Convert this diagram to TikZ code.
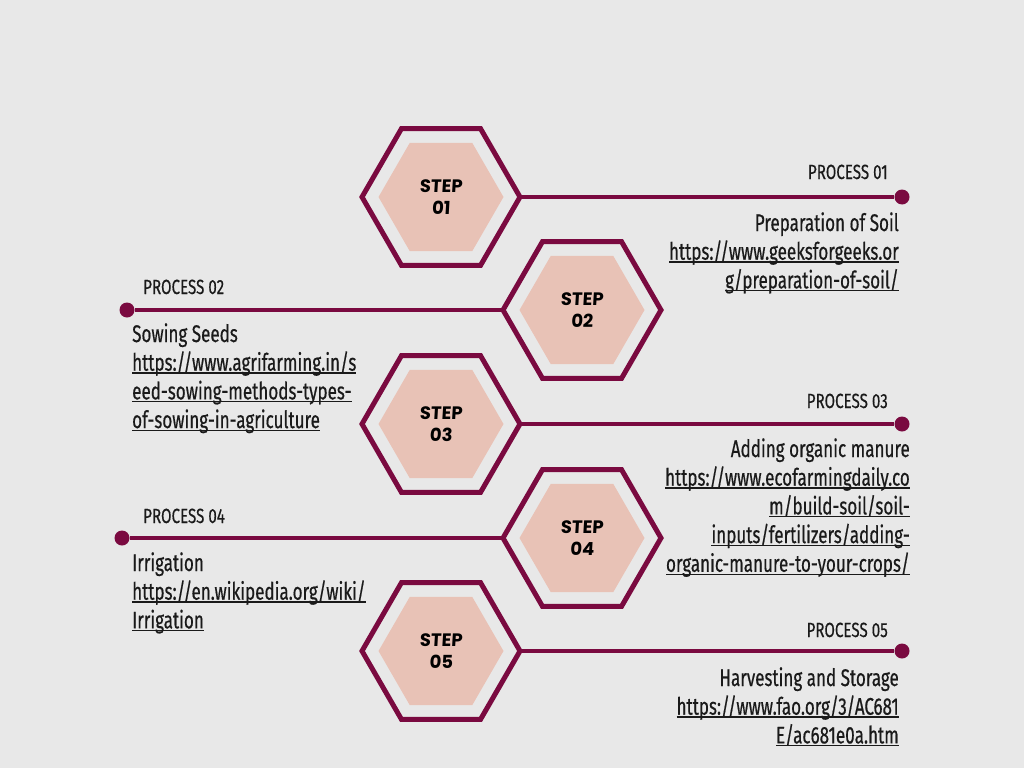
\documentclass[tikz,border=0pt]{standalone}
\usepackage{fontspec}
\usetikzlibrary{shapes.geometric}
\setmainfont{Fira Sans}[FakeStretch=0.71,FakeBold=0.5]
\newfontfamily\labelfont{Fira Sans}[FakeStretch=0.74,FakeBold=0.4]
\newfontfamily\stepfont{Poppins}[FakeSlant=0.06]
\definecolor{bgcol}{HTML}{E8E8E8}
\definecolor{maroon}{HTML}{7A0A40}
\definecolor{blush}{HTML}{E8C2B6}
\definecolor{ink}{HTML}{1A1A1A}
% underlined link line: rule sits just below the baseline
\newcommand\lk[1]{\setbox0\hbox{#1}\rlap{\rule[-3pt]{\wd0}{1.3pt}}\box0}
\tikzset{
  outerhex/.style={regular polygon, regular polygon sides=6, minimum size=158pt,
    inner sep=0pt, outer sep=0pt, draw=maroon, line width=5pt, fill=bgcol},
  innerhex/.style={regular polygon, regular polygon sides=6, minimum size=125pt,
    inner sep=0pt, fill=blush, text=black, align=center,
    font=\stepfont\bfseries\fontsize{18}{22}\selectfont},
  dot/.style={circle, fill=maroon, minimum size=15pt, inner sep=0pt},
  link/.style={draw=maroon, line width=4pt},
  plabel/.style={font=\labelfont\fontsize{20.5}{22}\selectfont, text=ink, inner sep=0pt},
  body/.style={font=\fontsize{24}{28.7}\selectfont, text=ink, inner sep=0pt},
}
\begin{document}
\begin{tikzpicture}[x=1pt,y=-1pt]
\useasboundingbox[fill=bgcol] (0,0) rectangle (1024,768);

% end dots of the connectors
\node[dot] (d1) at (902,197) {};
\node[dot] (d2) at (127,310) {};
\node[dot] (d3) at (902,424) {};
\node[dot] (d4) at (122,538) {};
\node[dot] (d5) at (902,651) {};

% hexagon frames
\node[outerhex] (h1) at (441,197) {};
\node[outerhex] (h2) at (582,310) {};
\node[outerhex] (h3) at (441,424) {};
\node[outerhex] (h4) at (582,538) {};
\node[outerhex] (h5) at (441,651) {};

% connectors from hexagon vertices to dots
\draw[link] (h1.east) -- (d1);
\draw[link] (d2) -- (h2.west);
\draw[link] (h3.east) -- (d3);
\draw[link] (d4) -- (h4.west);
\draw[link] (h5.east) -- (d5);

% step labels
\node[innerhex] (s1) at (h1.center) {STEP\\01};
\node[innerhex] (s2) at (h2.center) {STEP\\02};
\node[innerhex] (s3) at (h3.center) {STEP\\03};
\node[innerhex] (s4) at (h4.center) {STEP\\04};
\node[innerhex] (s5) at (h5.center) {STEP\\05};

% process headings
\node[plabel, anchor=base east] (p1) at (888,179) {PROCESS 01};
\node[plabel, anchor=base west] (p2) at (143,294) {PROCESS 02};
\node[plabel, anchor=base east] (p3) at (888,408) {PROCESS 03};
\node[plabel, anchor=base west] (p4) at (143,523) {PROCESS 04};
\node[plabel, anchor=base east] (p5) at (888,637) {PROCESS 05};

% descriptions with links (anchored at the baseline of the last line)
\node[body, anchor=base east, align=right] (t1) at (899,288.4)
  {Preparation of Soil\\\lk{https://www.geeksforgeeks.or}\\\lk{g/preparation-of-soil/}};
\node[body, anchor=base west, align=left] (t2) at (132,428.1)
  {Sowing Seeds\\\lk{https://www.agrifarming.in/s}\\\lk{eed-sowing-methods-types-}\\\lk{of-sowing-in-agriculture}};
\node[body, anchor=base east, align=right] (t3) at (910,571.8)
  {Adding organic manure\\\lk{https://www.ecofarmingdaily.co}\\\lk{m/build-soil/soil-}\\\lk{inputs/fertilizers/adding-}\\\lk{organic-manure-to-your-crops/}};
\node[body, anchor=base west, align=left] (t4) at (132,628.4)
  {Irrigation\\\lk{https://en.wikipedia.org/wiki/}\\\lk{Irrigation}};
\node[body, anchor=base east, align=right] (t5) at (899,743.4)
  {Harvesting and Storage\\\lk{https://www.fao.org/3/AC681}\\\lk{E/ac681e0a.htm}};
\end{tikzpicture}
\end{document}
